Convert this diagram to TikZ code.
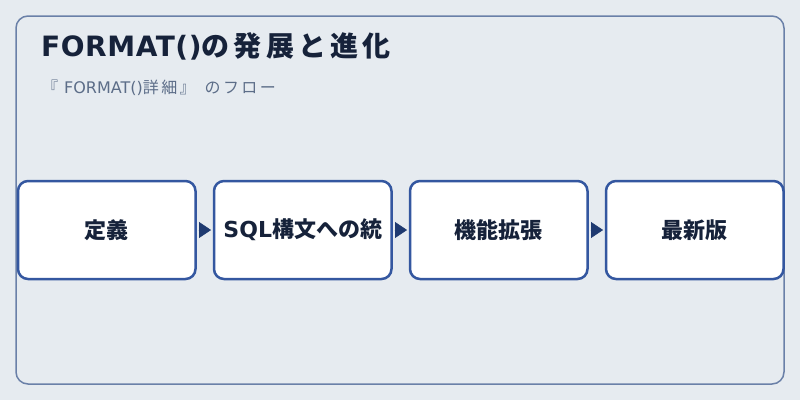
\documentclass[tikz,border=0pt]{standalone}
\usepackage{fontspec}
\setmainfont{DejaVu Sans}
\newfontfamily\jp{Noto Sans CJK JP}
\newfontfamily\jpwide{Noto Sans CJK JP}[LetterSpace=15]
\newfontfamily\latwide{DejaVu Sans}[LetterSpace=2]
\usetikzlibrary{arrows.meta,positioning}
\definecolor{bgcol}{HTML}{E6EBF0}
\definecolor{framecol}{HTML}{6A80A8}
\definecolor{boxcol}{HTML}{3457A0}
\definecolor{titlecol}{HTML}{16223A}
\definecolor{subcol}{HTML}{5C6D88}
\definecolor{arrowcol}{HTML}{1F3A70}

\tikzset{
  stage/.style={draw=boxcol, line width=2.5pt, fill=white, rounded corners=10pt,
    minimum width=177.5pt, minimum height=98pt, inner sep=0pt, outer sep=0pt,
    font=\fontsize{22}{26}\selectfont\bfseries, text=titlecol},
  flow/.style={-{Triangle[length=12pt,width=16pt]}, draw=arrowcol, fill=arrowcol,
    shorten <=3pt, shorten >=3pt}
}

\begin{document}
\begin{tikzpicture}[x=1pt,y=-1pt]

\fill [bgcol] (0,0) rectangle (800,400);
\useasboundingbox (0,0) rectangle (800,400);

% outer frame
\draw [framecol, line width=1.5pt, rounded corners=12pt] (16,16) rectangle (784,384);

\node (title) at (41,56) [anchor=base west, inner sep=0pt, text=titlecol,
  font=\fontsize{28}{32}\selectfont\bfseries] {{\latwide FORMAT()}{\jpwide の発展と進化}};
\node (subtitle) at (42,93) [anchor=base west, inner sep=0pt, text=subcol,
  font=\fontsize{16}{20}\selectfont] {{\jp 『}\hspace{6pt}FORMAT(){\jpwide 詳細』}\hspace{9pt}{\jpwide のフロー}};

% stages
\node (define) at (106.75,230) [stage] {\jp 定義};
\node (unify) [stage, right=18.5pt of define] {SQL{\jp 構文への統}};
\node (extend) [stage, right=18.5pt of unify] {\jp 機能拡張};
\node (latest) [stage, right=18.5pt of extend] {\jp 最新版};

\draw [flow] (define) -- (unify);
\draw [flow] (unify) -- (extend);
\draw [flow] (extend) -- (latest);

\end{tikzpicture}
\end{document}
